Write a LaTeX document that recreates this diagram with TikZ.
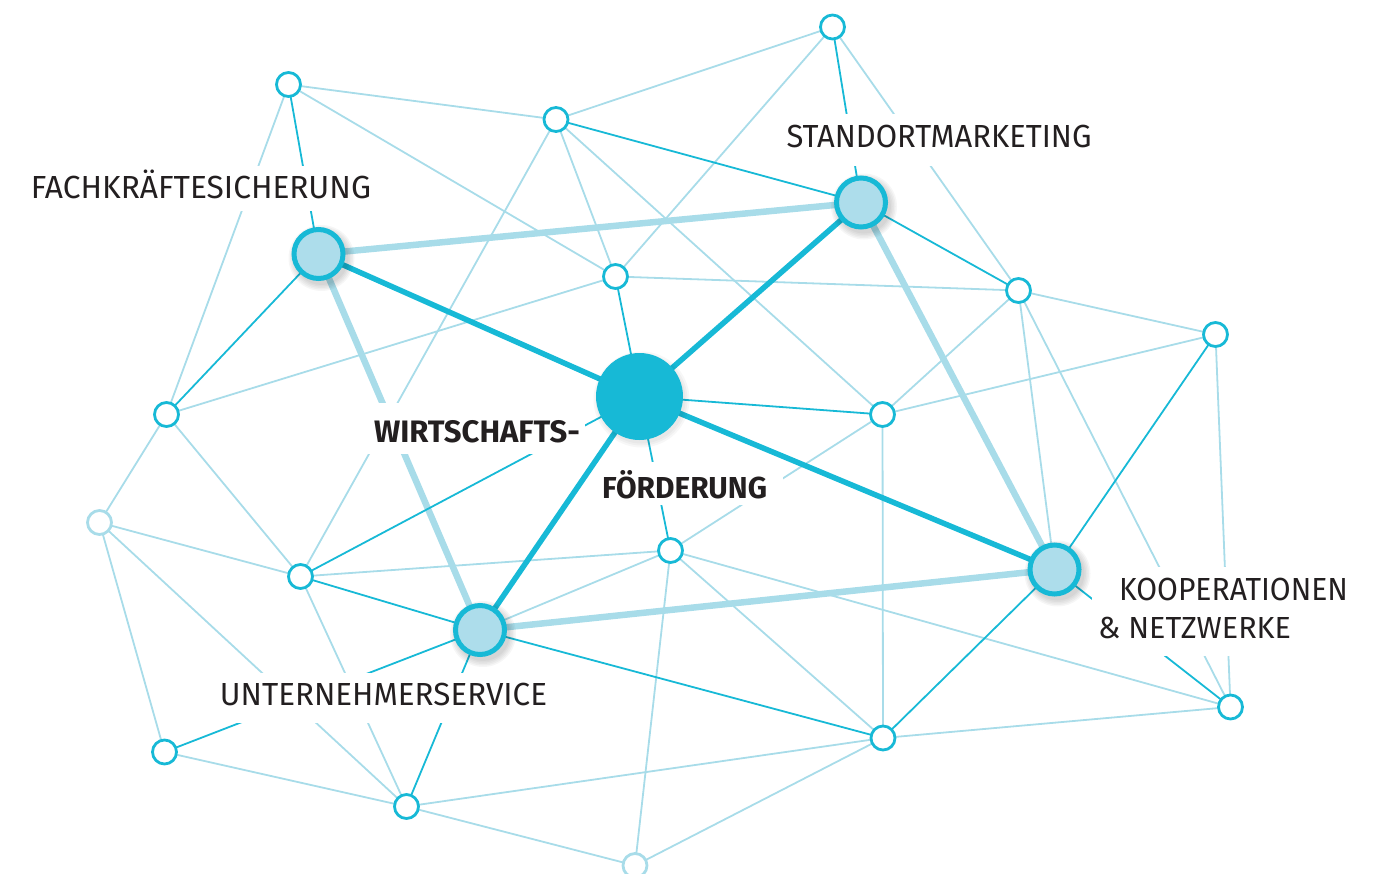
\documentclass[tikz,border=0pt]{standalone}
\usepackage{fontspec}
\setmainfont{Fira Sans}
\usepackage{graphicx}
\definecolor{cy}{HTML}{17B9D6}
\definecolor{lb}{HTML}{A8DCE9}
\definecolor{fillb}{HTML}{ADDDEB}
\definecolor{txt}{HTML}{231F20}
\newcommand\fitlbl[3]{\resizebox{#1}{#2}{\raisebox{0pt}[\fontcharht\font`H][0pt]{#3}}}
\pgfdeclarelayer{edges}
\pgfdeclarelayer{boxes}
\pgfdeclarelayer{shade}
\pgfsetlayers{edges,boxes,shade,main}
\begin{document}
\begin{tikzpicture}[x=1pt,y=-1pt,
  lightline/.style={draw=lb, line width=1.8pt},
  strongline/.style={draw=cy, line width=1.8pt},
  thickline/.style={draw=cy, line width=5.5pt},
  thicklight/.style={draw=lb, line width=6.5pt},
  smallnode/.style={circle, draw=cy, line width=2.8pt, fill=white, minimum size=24pt, inner sep=0pt},
  smalllight/.style={smallnode, draw=lb},
  bignode/.style={circle, draw=cy, line width=5pt, fill=fillb, minimum size=49pt, inner sep=0pt},
  centernode/.style={circle, fill=cy, minimum size=87pt, inner sep=0pt},
  lbl/.style={inner sep=0pt, text=txt, font=\fontsize{30}{30}\selectfont},
  lblb/.style={lbl, font=\fontsize{30}{30}\selectfont\bfseries},
  whitebox/.style={fill=white}
]
\useasboundingbox (0,0) rectangle (1383,873);
\clip (0,0) rectangle (1383,873);

% nodes
\node[smallnode] (a) at (288.5,84.5) {};
\node[smallnode] (b) at (556,119.5) {};
\node[smallnode] (c) at (832.5,27) {};
\node[smallnode] (d) at (615.5,276.5) {};
\node[smallnode] (e) at (1018.5,290.5) {};
\node[smallnode] (f) at (1215.5,334.5) {};
\node[smallnode] (g) at (166.5,414.5) {};
\node[smallnode] (h) at (882.5,414.5) {};
\node[smalllight] (i) at (99.5,522.5) {};
\node[smallnode] (j) at (300.5,576.5) {};
\node[smallnode] (k) at (670.5,550.5) {};
\node[smallnode] (l) at (164.5,752) {};
\node[smallnode] (m) at (406.5,806.5) {};
\node[smallnode] (n) at (883,738) {};
\node[smallnode] (o) at (1230.5,707) {};
\node[smalllight] (p) at (635,865.5) {};
\node[bignode] (fk) at (318.5,254) {};
\node[bignode] (sm) at (861,202.5) {};
\node[bignode] (un) at (480,630) {};
\node[bignode] (kn) at (1054.5,569.5) {};
\node[centernode] (wf) at (639.5,396.5) {};

% labels
\node[lbl] (tfach) at (201,187) {\fitlbl{340pt}{22pt}{FACHKRÄFTESICHERUNG}};
\node[lbl] (tstand) at (939,136) {\fitlbl{305pt}{22pt}{STANDORTMARKETING}};
\node[lblb] (twirt) at (477,431.5) {\fitlbl{206pt}{21.5pt}{WIRTSCHAFTS-}};
\node[lblb] (tford) at (684.5,487.5) {\fitlbl{165pt}{21pt}{FÖRDERUNG}};
\node[lbl] (tunter) at (383.5,694) {\fitlbl{327pt}{22pt}{UNTERNEHMERSERVICE}};
\node[lbl] (tkoop) at (1233.5,589) {\fitlbl{229pt}{22pt}{KOOPERATIONEN}};
\node[lbl] (tnetz) at (1194.5,627.5) {\fitlbl{193pt}{21pt}{\&~NETZWERKE}};

\begin{pgfonlayer}{edges}
\foreach \u/\v in {a/b,a/d,a/g,b/c,b/d,b/h,b/j,c/d,c/e,d/e,d/g,e/h,e/f,e/kn,e/o,f/h,f/o,
  h/n,h/k,g/i,g/j,i/j,i/m,i/l,j/k,j/m,l/m,m/n,m/p,k/un,k/p,k/n,k/o,n/o,n/p}
  \draw[lightline] (\u.center) -- (\v.center);
\foreach \u/\v in {fk/sm,fk/un,sm/kn,un/kn}
  \draw[thicklight] (\u.center) -- (\v.center);
\foreach \u/\v in {a/fk,fk/g,b/sm,sm/e,c/sm,d/wf,wf/h,wf/k,wf/j,j/un,un/l,un/m,un/n,n/kn,kn/f,kn/o}
  \draw[strongline] (\u.center) -- (\v.center);
\foreach \u/\v in {wf/fk,wf/sm,wf/un,wf/kn}
  \draw[thickline] (\u.center) -- (\v.center);
\end{pgfonlayer}

\begin{pgfonlayer}{boxes}
\fill[whitebox] (22,166) rectangle (380,211);
\fill[whitebox] (778,114) rectangle (1100,166);
\fill[whitebox] (368,403) rectangle (585,454);
\fill[whitebox] (599,462) rectangle (783,505);
\fill[whitebox] (212,673) rectangle (555,723);
\fill[whitebox] (1092,567) rectangle (1360,656);
\end{pgfonlayer}

\begin{pgfonlayer}{shade}
\foreach \nm in {fk,sm,un,kn}
  \foreach \r in {27,28.5,30,31.5,33}
    \fill[black, opacity=0.035] ([shift={(3,4)}]\nm.center) circle[radius=\r pt];
\foreach \r in {44,46,48}
  \fill[black, opacity=0.03] ([shift={(2,3)}]wf.center) circle[radius=\r pt];
\end{pgfonlayer}
\end{tikzpicture}
\end{document}
